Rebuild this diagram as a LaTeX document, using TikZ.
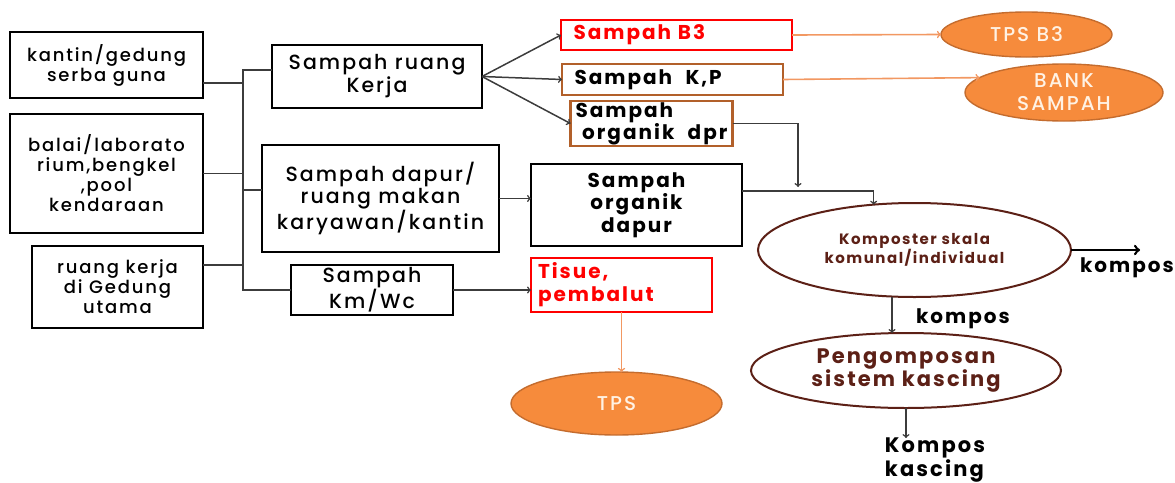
\documentclass[tikz,border=0pt]{standalone}
\usepackage{fontspec}
\setmainfont{Poppins}[LetterSpace=10,UprightFont=* Medium,BoldFont=* Bold]
\usetikzlibrary{shapes.geometric}
\definecolor{tpsorange}{RGB}{246,139,60}
\definecolor{tpsedge}{RGB}{196,108,46}
\definecolor{lineorange}{RGB}{242,152,98}
\definecolor{kpbrown}{RGB}{178,96,42}
\definecolor{kompbrown}{RGB}{92,32,22}
\definecolor{conngray}{RGB}{60,60,60}
\definecolor{tpstext}{RGB}{255,242,228}

\begin{document}
\begin{tikzpicture}[x=1pt,y=-1pt,every node/.style={inner sep=0pt,outer sep=0pt}]
      \tikzstyle{box}=[draw,rectangle,line width=2.8pt,align=center,font=\fontsize{18}{20}\selectfont]
      \tikzstyle{bigbox}=[box,font=\fontsize{20.5}{23}\selectfont]
      \tikzstyle{wastebox}=[draw,rectangle,line width=2pt,align=left,font=\bfseries\fontsize{20}{22}\selectfont]
      \tikzstyle{tpsnode}=[ellipse,fill=tpsorange,draw=tpsedge,line width=1.4pt,text=tpstext,align=center,font=\fontsize{20}{23}\selectfont]
      \tikzstyle{kompnode}=[ellipse,draw=kompbrown,line width=2pt,text=kompbrown,align=center]
      \tikzstyle{conn}=[draw=conngray,line width=1.5pt]
      \tikzstyle{arr}=[conn,->]
      \tikzstyle{tpsarr}=[draw=lineorange,line width=1.6pt,->]
      \tikzstyle{lbl}=[font=\bfseries\fontsize{20}{22}\selectfont,align=left]

      \useasboundingbox (0,0) rectangle (1175,482);

      \node (kantin) at (106.5,65) [box,minimum width=193pt,minimum height=66pt] {kantin/gedung\\serba guna};
      \node (balai) at (106.5,173.5) [box,minimum width=193pt,minimum height=119pt] {balai/laborato\\rium,bengkel\\,pool\\kendaraan};
      \node (ruangkerja) at (117.5,287) [box,minimum width=171pt,minimum height=82pt] {ruang kerja\\di Gedung\\utama};

      \node (ruang) at (377,76.5) [bigbox,minimum width=210pt,minimum height=63pt] {Sampah ruang\\Kerja};
      \node (dapur) at (380.5,198.5) [bigbox,minimum width=237pt,minimum height=107pt,font=\fontsize{20.5}{22}\selectfont] {Sampah dapur/\\ruang makan\\karyawan/kantin};
      \node (kmwc) at (372,290) [bigbox,minimum width=162pt,minimum height=50pt] {Sampah\\Km/Wc};

      \node (b3) at (676.5,35) [wastebox,draw=red,line width=2.6pt,text=red,text width=206pt,inner xsep=12.5pt,minimum height=30pt] {Sampah B3};
      \node (kp) at (672.5,79.5) [wastebox,draw=kpbrown,text width=196pt,inner xsep=12.5pt,minimum height=31pt] {Sampah~~K,P};
      \node (dpr) at (651.5,123.5) [wastebox,draw=kpbrown,line width=2.4pt,text width=152pt,inner xsep=5pt,minimum height=45pt] {Sampah\\\ organik~~dpr};
      \node (orgdapur) at (636.5,205) [wastebox,draw=black,line width=2.8pt,align=center,minimum width=211pt,minimum height=82pt,font=\bfseries\fontsize{20}{22.5}\selectfont] {Sampah\\organik\\dapur};
      \node (tisue) at (621.5,285) [wastebox,draw=red,line width=2.6pt,text=red,text width=167pt,inner xsep=7pt,minimum height=54pt,font=\bfseries\fontsize{20}{23}\selectfont] {Tisue,\\pembalut};

      \node (tpsb3) at (1026.5,34.5) [tpsnode,minimum width=171pt,minimum height=45pt] {TPS B3};
      \node (bank) at (1064,92.5) [tpsnode,minimum width=198pt,minimum height=57pt] {BANK\\SAMPAH};
      \node (tps) at (616.5,403.5) [tpsnode,minimum width=211pt,minimum height=63pt] {TPS};

      \node (komposter) at (914.5,250) [kompnode,minimum width=313pt,minimum height=94pt,font=\bfseries\fontsize{15}{18}\selectfont] {Komposter skala\\komunal/individual};
      \node (pengomposan) at (906,370.5) [kompnode,minimum width=310pt,minimum height=75pt,font=\bfseries\fontsize{21}{23}\selectfont] {Pengomposan\\sistem kascing};

      \node (komposA) at (1127,268) [lbl] {kompos};
      \node (komposB) at (963,319) [lbl] {kompos};
      \node (kascing) at (935,460) [lbl,font=\bfseries\fontsize{21}{22}\selectfont] {Kompos\\kascing};
      \coordinate (bus) at (243,290);
      \coordinate (dprend) at (798,187);
      \coordinate (kompend) at (1140,250);

      \draw [conn] ([yshift=-18pt]kantin.east) -- ++(40,0);
      \draw [conn] (balai.east) -- ++(40,0);
      \draw [conn] ([yshift=22pt]ruangkerja.east) -- ++(40,0);
      \draw [conn] ([yshift=6.5pt]ruang.west) -| (bus) -- (kmwc.west);
      \draw [conn] ([yshift=8.5pt]dapur.west) -- ++(-19,0);

      \draw [arr] (ruang.east) -- (b3.west);
      \draw [arr] (ruang.east) -- (kp.west);
      \draw [arr] (ruang.east) -- (dpr.west);
      \draw [arr] (dapur.east) -- (dapur.east -| orgdapur.west);
      \draw [arr] (kmwc.east) -- (kmwc.east -| tisue.west);

      \draw [tpsarr] (b3.east) -- (tpsb3.west);
      \draw [tpsarr] (kp.east) -- (bank.170);
      \draw [tpsarr] (tisue.south) -- (tisue.south |- tps.north);

      \draw [arr] (dpr.east) -| (dprend);
      \draw [arr] ([yshift=14pt]orgdapur.east) -| (komposter.132);
      \draw [arr,draw=black,line width=2.6pt] (komposter.east) -- (kompend);
      \draw [arr] ([xshift=-22.5pt]komposter.south) -- ([xshift=-14pt]pengomposan.north);
      \draw [arr] (pengomposan.south) -- (pengomposan.south |- kascing.north);
    \end{tikzpicture}
\end{document}
